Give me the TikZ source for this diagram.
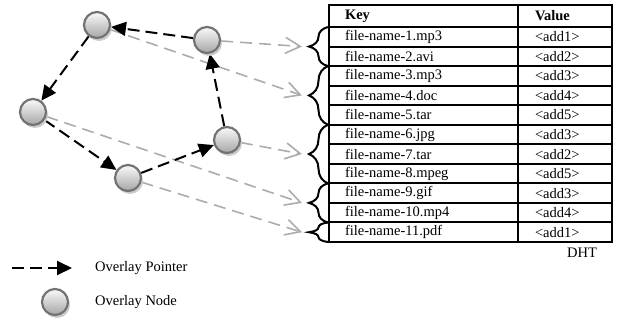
\documentclass[tikz,border=0pt]{standalone}
\usepackage{fontspec}
\setmainfont{Liberation Serif}
\usetikzlibrary{arrows.meta,shadows,decorations.pathreplacing,calc}
\pgfdeclarelayer{background}
\pgfsetlayers{background,main}
\begin{document}
\begin{tikzpicture}[x=1pt,y=-1pt,
  every node/.style={font=\fontsize{14.5}{17}\selectfont},
  onode/.style={circle, minimum size=26pt, inner sep=0pt, line width=2.2pt, draw=black!55,
    top color=gray!4, bottom color=gray!70,
    drop shadow={shadow xshift=2pt, shadow yshift=-3pt, fill=gray!40, opacity=1}},
  ptr/.style={line width=2pt, dash pattern=on 12pt off 6pt, -{Triangle[length=15pt,width=14pt]}},
  map/.style={line width=1.6pt, draw=gray!65, dash pattern=on 12pt off 7pt,
    -{Straight Barb[length=15pt,width=16pt]}},
  keycell/.style={draw, line width=2pt, outer sep=0pt, minimum height=19.545pt, text width=157pt,
    inner xsep=16pt, inner ysep=0pt, anchor=north west, align=left},
  valcell/.style={draw, line width=2pt, outer sep=0pt, minimum height=19.545pt, text width=60pt,
    inner xsep=17pt, inner ysep=0pt, anchor=north west, align=left},
  hbrace/.style={decorate, decoration={brace, amplitude=19pt}, line width=2pt},
  lbl/.style={inner sep=0pt, anchor=west},
]
\useasboundingbox (0,0) rectangle (622,322);

% overlay nodes
\node[onode] (A) at (97,25) {};
\node[onode] (B) at (207,40) {};
\node[onode] (C) at (33,112) {};
\node[onode] (D) at (227,140) {};
\node[onode] (E) at (128,178) {};

% table
\node[keycell, minimum height=22pt, font=\fontsize{14.5}{17}\selectfont\bfseries] (k0) at (329,5) {Key};
\node[valcell, minimum height=22pt, font=\fontsize{14.5}{17}\selectfont\bfseries] (v0) at (518,5) {Value};
\foreach \k/\v [count=\i] in {file-name-1.mp3/<add1>, file-name-2.avi/<add2>,
  file-name-3.mp3/<add3>, file-name-4.doc/<add4>, file-name-5.tar/<add5>,
  file-name-6.jpg/<add3>, file-name-7.tar/<add2>, file-name-8.mpeg/<add5>,
  file-name-9.gif/<add3>, file-name-10.mp4/<add4>, file-name-11.pdf/<add1>}{
  \node[keycell] (k\i) at (329,{27+(\i-1)*19.545}) {\k};
  \node[valcell] (v\i) at (518,{27+(\i-1)*19.545}) {\v};
}
\node (dht) at (582,253) {DHT};

% braces
\draw[hbrace] ([xshift=-1pt]k2.south west) -- ([xshift=-1pt]k1.north west);
\draw[hbrace] ([xshift=-1pt]k5.south west) -- ([xshift=-1pt]k3.north west);
\draw[hbrace] ([xshift=-1pt]k8.south west) -- ([xshift=-1pt]k6.north west);
\draw[hbrace] ([xshift=-1pt]k10.south west) -- ([xshift=-1pt]k9.north west);
\draw[hbrace] ([xshift=-1pt]k11.south west) -- ([xshift=-1pt]k11.north west);

\coordinate (t1) at ($(k1.north west)!0.5!(k2.south west)+(-27,0)$);
\coordinate (t2) at ($(k3.north west)!0.5!(k5.south west)+(-27,0)$);
\coordinate (t3) at ($(k6.north west)!0.5!(k8.south west)+(-27,0)$);
\coordinate (t4) at ($(k9.north west)!0.5!(k10.south west)+(-27,0)$);
\coordinate (t5) at ($(k11.north west)!0.5!(k11.south west)+(-27,0)$);

\begin{pgfonlayer}{background}
\draw[map] (B) -- (t1);
\draw[map] (A) -- (t2);
\draw[map] (D) -- (t3);
\draw[map] (C) -- (t4);
\draw[map] (E) -- (t5);
\draw[ptr] (B) -- (A);
\draw[ptr] (A) -- (C);
\draw[ptr] (C) -- (E);
\draw[ptr] (E) -- (D);
\draw[ptr] (D) -- (B);
\end{pgfonlayer}

% legend
\coordinate (l1) at (12,268);
\coordinate (l2) at (72,268);
\draw[ptr] (l1) -- (l2);
\node[lbl] (lp) at (95,268) {Overlay Pointer};
\node[onode] (ln) at (55,302) {};
\node[lbl] (lnt) at (95,302) {Overlay Node};
\end{tikzpicture}
\end{document}
